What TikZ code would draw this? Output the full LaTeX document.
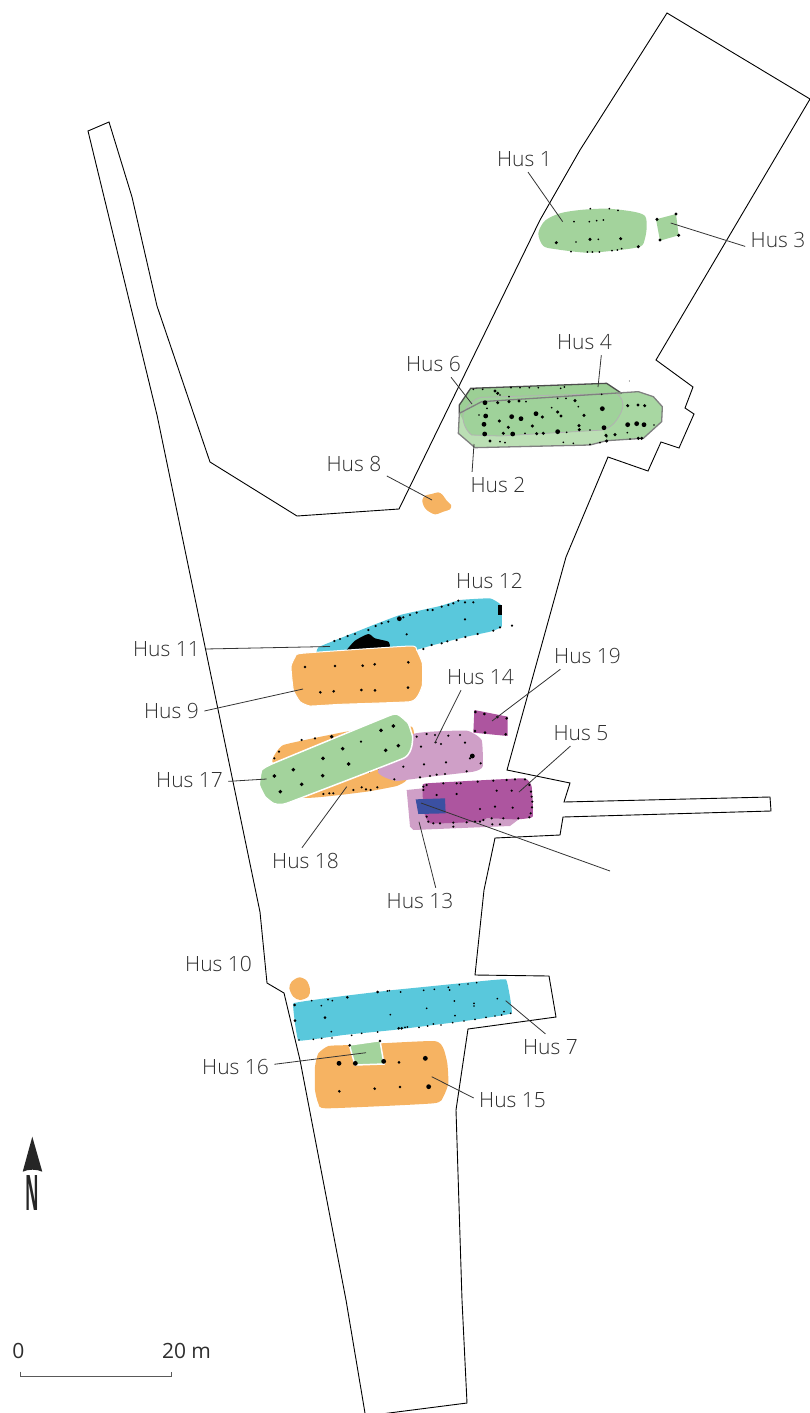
\documentclass[tikz,border=0pt]{standalone}
\usepackage{fontspec}
\usetikzlibrary{calc}
\setmainfont{Open Sans}
\newfontfamily\lightfont{Open Sans Light}
\definecolor{husgreen}{HTML}{A3D39C}
\definecolor{husband}{HTML}{9CCF95}
\definecolor{husmain}{HTML}{9FD29A}
\definecolor{huspale}{HTML}{BBDFB4}
\definecolor{husend}{HTML}{A8D7A2}
\definecolor{husorange}{HTML}{F6B362}
\definecolor{huscyan}{HTML}{59C8DC}
\definecolor{huspink}{HTML}{CF9FC7}
\definecolor{huspurple}{HTML}{AD559F}
\definecolor{husblue}{HTML}{3B50A2}
\definecolor{labelgray}{HTML}{2E2E2E}
\newcommand{\postholes}[2]{\foreach \px/\py in {#2} {\fill (\px,\py) circle ({1.45*#1});}}
\begin{document}
\begin{tikzpicture}[x=1pt, y=-1pt]
	\tikzstyle{huslabel}=[
	font=\lightfont\fontsize{21}{21}\selectfont,
	text=labelgray,
	inner sep=1.5pt,
	outer sep=4pt
	]
	\tikzstyle{leader}=[
	draw=black!80,
	line width=0.8pt
	]
	\tikzstyle{boundary}=[
	draw=black,
	line width=0.9pt,
	line join=miter
	]
	\tikzstyle{zoomA}=[shift={(400,130)}, scale=0.33333]
	\tikzstyle{zoomB}=[shift={(240,570)}, scale=0.33333]
	\tikzstyle{zoomC}=[shift={(260,950)}, scale=0.33333]
	\useasboundingbox (0,0) rectangle (810,1413);
	%
	\draw[boundary] (667,13) -- (810,99) -- (656,360) -- (693,387) -- (685,408) -- (694,414)
	-- (679,448) -- (661,442) -- (648,471) -- (608,457) -- (566,557) -- (507,770) -- (570,783)
	-- (564,802) -- (770,797) -- (771,811) -- (563,817) -- (560,835) -- (495,838) -- (484,890)
	-- (475,975) -- (549,976) -- (556,1017) -- (468,1029) -- (456,1110) -- (462,1300)
	-- (467,1403) -- (365.5,1416) -- (346,1300) -- (300,1060) -- (284,993) -- (267,983)
	-- (260,912) -- (157,415) -- (88,131) -- (109,122) -- (132,197) -- (157,306) -- (210,462)
	-- (297,516) -- (399,509) -- (540,220) -- (580,150) -- cycle;
	%
	\begin{scope}[zoomA]
		% north houses
		\fill[husgreen] plot[smooth cycle] coordinates {(415,310) (430,348) (470,358) (560,368) (640,362) (720,350) (735,325) (740,290) (735,258) (700,245) (620,236) (540,240) (480,250) (435,272)};
		\fill[husgreen] (768,268) -- (828,252) -- (836,316) -- (780,332) -- cycle;
		\postholes{2pt}{571/236,628/236,654/241,522/275,568/275,590/272,610/270,528/336,595/328,665/356,652/360,636/362,598/366,577/366,562/366,513/365}
		\postholes{3.5pt}{469/338,570/328,662/326,715/350,771/268,828/252,836/316,780/330}
		% double house
		\fill[huspale] (178,850) -- (175,910) -- (225,953) -- (570,945) -- (620,932) -- (730,925) -- (785,875) -- (787,830) -- (760,800) -- (715,785) -- (245,815) -- cycle;
		\fill[husend] (610,900) -- (650,790) -- (715,785) -- (760,800) -- (787,830) -- (785,875) -- (730,925) -- (620,932) -- cycle;
		\fill[husband] (178,850) -- (178,825) -- (212,775) -- (620,760) -- (665,790) -- (600,900) -- (215,915) -- cycle;
		\filldraw[draw=black!30, fill=husmain, line width=0.8pt] (190,850) .. controls (200,825) and (225,805) .. (245,802) -- (650,790) .. controls (675,810) and (675,835) .. (650,870) .. controls (640,885) and (625,895) .. (610,900) -- (300,918) -- (215,915) .. controls (195,900) and (185,870) .. (190,850) -- cycle;
		\draw[draw=black!70, line width=1.3pt] (178,850) -- (178,825) -- (212,775) -- (620,760) -- (665,790);
		\draw[draw=black!50, line width=1.3pt] (178,850) -- (175,910) -- (225,953) -- (570,945) -- (620,932) -- (730,925) -- (785,875) -- (787,830) -- (760,800) -- (715,785) -- (245,815) -- cycle;
		\postholes{5pt}{607/836,257/858,612/893,338/912,710/881,252/883,335/860,363/866,408/851,683/884,732/884,473/905,254/912,255/818}
		\postholes{3.5pt}{285/783,293/790,327/815,357/813,293/818,298/873,427/861,473/846,483/858,552/856,397/888,537/887,538/899,410/911,430/910,310/910,270/933,645/914,618/916,683/827,714/825,734/827,620/933,715/925,725/925,325/892,525/812}
		\postholes{2pt}{220/778,248/778,333/773,360/773,388/773,415/773,482/775,493/771,327/800,300/795,473/805,498/805,378/815,455/833,535/830,237/855,261/835,375/910,500/907,570/900,682/908,620/920,520/940,490/937,570/943,600/938,315/938,300/935,690/927,762/885,605/793}
		\postholes{1pt}{688/753}
		% small orange house
		\fill[husorange] plot[smooth cycle] coordinates {(67,1110) (75,1097) (95,1092) (115,1087) (128,1095) (140,1112) (153,1125) (150,1138) (130,1145) (105,1153) (80,1140) (70,1125)};
	\end{scope}
	%
	\begin{scope}[zoomB]
		% middle group
		\fill[huscyan] plot[smooth cycle, tension=0.2] coordinates {(235,232) (300,205) (400,165) (480,135) (600,108) (660,90) (750,85) (783,105) (785,170) (750,185) (680,200) (580,225) (450,260) (235,260)};
		\fill[black] plot[smooth, tension=0.4] coordinates {(320,240) (345,212) (385,192) (405,205) (445,215) (450,232)} -- cycle;
		\fill[black] (775,105) rectangle (785,135);
		\postholes{5pt}{478/146}
		\postholes{2.5pt}{283/213,300/207,323/198,345/192,385/180,407/168,425/160,445/155,490/142,510/135,530/128,563/120,578/120,605/110,625/105,640/100,655/92,675/97,700/97,675/148,500/193,550/237,575/225,605/220,622/214,650/210,676/201,713/192,760/182,780/172,816/167}
		\filldraw[draw=white, fill=husorange, line width=1pt] plot[smooth cycle, tension=0.25] coordinates {(153,290) (165,262) (185,250) (510,228) (530,240) (547,280) (547,345) (535,375) (510,395) (300,403) (210,408) (180,395) (160,360)};
		\postholes{3pt}{195/291,285/288,368/287,404/283,505/277,241/367,281/364,364/360,405/361,504/353}
		\fill[husorange] plot[smooth cycle, tension=0.2] coordinates {(97,575) (130,525) (330,483) (515,470) (522,540) (500,630) (470,648) (380,665) (190,683)};
		\postholes{2.5pt}{103/565,117/545,185/510,225/505,340/660,190/680,250/672,268/670,280/670,365/652,378/658,392/660,412/652,388/605,415/595}
		\fill[huspink] plot[smooth cycle, tension=0.25] coordinates {(415,600) (520,492) (680,482) (725,510) (728,590) (700,605) (570,620) (470,633) (430,620)};
		\postholes{2.5pt}{543/530,560/492,585/495,625/497,660/495,603/522,587/517,675/518,690/565,722/580,618/577,552/583,490/590,463/628,540/622,570/618,590/614,615/612,680/604,530/500}
		\postholes{5pt}{697/558}
		\filldraw[draw=white, fill=husgreen, line width=1.5pt] plot[smooth cycle, tension=0.2] coordinates {(58,645) (65,600) (100,580) (450,436) (478,436) (505,460) (518,500) (515,530) (490,565) (140,700) (100,700) (75,680)};
		\postholes{4pt}{249/565,103/618,423/481,326/582,248/617,185/643,475/527,460/468,437/541,160/599,308/536,121/665,275/500}
		\postholes{2.5pt}{363/515}
		\fill[huspurple] (703,420) -- (803,440) -- (803,498) -- (700,488) -- cycle;
		\postholes{3pt}{706/426,733/432,772/441,800/445,705/483,735/488,797/493}
		\fill[huspink] (500,660) -- (600,650) -- (600,745) -- (840,745) -- (810,768) -- (520,780) -- (510,770) -- cycle;
		\fill[huspurple] plot[smooth cycle, tension=0.2] coordinates {(548,650) (560,640) (850,625) (875,650) (878,740) (830,748) (740,745) (720,755) (570,760) (550,720)};
		\postholes{2.5pt}{550/650,560/645,610/640,650/640,662/640,713/635,760/632,800/630,825/628,855/628,868/645,873/665,875/680,877/695,876/712,872/730,868/742,590/675,650/672,770/662,815/662,720/717,765/710,818/713,835/745,790/745,755/745,730/750,720/755,705/755,680/757,640/758,600/760,580/760,565/755,560/740,560/725,780/763,757/763,640/770,550/660}
		\fill[husblue] (527,688) -- (615,685) -- (617,730) -- (535,732) -- cycle;
	\end{scope}
	%
	\begin{scope}[zoomC]
		% south group
		\fill[husorange] plot[smooth cycle] coordinates {(88,115) (95,95) (118,82) (140,92) (150,118) (145,140) (120,150) (100,140)};
		\fill[huscyan] plot[smooth cycle, tension=0.1] coordinates {(100,160) (250,138) (400,120) (600,100) (738,88) (755,190) (600,215) (400,240) (250,255) (115,272)};
		\postholes{3pt}{104/165,105/212,262/142,353/126,195/203,416/235,425/235}
		\postholes{2pt}{117/270,155/152,184/167,204/149,217/152,382/123,388/122,422/126,491/121,523/118,565/112,569/120,598/104,624/102,650/98,712/146,391/194,500/175,583/153,642/160,642/168,732/185,752/190,214/245,216/264,160/268,185/265,275/256,305/250,353/246,435/232,442/231,477/232,503/228,543/225,578/218,612/213,645/208,678/202,705/198,725/195,585/197,520/222}
		\fill[husorange] plot[smooth cycle, tension=0.3] coordinates {(165,350) (175,310) (205,288) (270,285) (520,273) (550,295) (562,340) (565,400) (550,440) (520,460) (200,475) (175,460) (165,420)};
		\filldraw[draw=white, fill=husgreen, line width=1.5pt] (268,285) -- (360,272) -- (372,342) -- (285,345) -- cycle;
		\postholes{5pt}{237/340,286/340,371/334,496/325,506/410}
		\postholes{3pt}{417/337,238/424,344/416,420/411,269/286,360/273}
	\end{scope}
	%
	\coordinate (E1) at (562.7,221.7);
	\coordinate (E2) at (474,444);
	\coordinate (E3) at (670.7,223);
	\coordinate (E4) at (598,387);
	\coordinate (E5) at (519,792);
	\coordinate (E6) at (472,404);
	\coordinate (E7) at (505.7,1000.7);
	\coordinate (E8) at (432,500);
	\coordinate (E9) at (303,689);
	\coordinate (E11) at (330,646.5);
	\coordinate (E13) at (419,821.7);
	\coordinate (F13) at (421,803);
	\coordinate (G13) at (610,871);
	\coordinate (E14) at (434.7,743);
	\coordinate (E15) at (431.7,1076.7);
	\coordinate (E16) at (366,1052.7);
	\coordinate (E17) at (266.7,779);
	\coordinate (E18) at (346.7,786.7);
	\coordinate (E19) at (492,721);
	%
	\node[huslabel] (H1) at (524.5,159) {Hus 1};
	\node[huslabel] (H2) at (498,485) {Hus 2};
	\node[huslabel] (H3) at (778,240) {Hus 3};
	\node[huslabel] (H4) at (584.5,342) {Hus 4};
	\node[huslabel] (H5) at (581,733) {Hus 5};
	\node[huslabel] (H6) at (433.5,364) {Hus 6};
	\node[huslabel] (H7) at (550.5,1047) {Hus 7};
	\node[huslabel] (H8) at (354,464) {Hus 8};
	\node[huslabel] (H9) at (171.5,711) {Hus 9};
	\node[huslabel] (H10) at (218.5,964) {Hus 10};
	\node[huslabel] (H11) at (166.5,649) {Hus 11};
	\node[huslabel] (H12) at (489.5,581) {Hus 12};
	\node[huslabel] (H13) at (420,901) {Hus 13};
	\node[huslabel] (H14) at (480.5,677) {Hus 14};
	\node[huslabel] (H15) at (512.5,1100) {Hus 15};
	\node[huslabel] (H16) at (235.5,1067) {Hus 16};
	\node[huslabel] (H17) at (189.5,780) {Hus 17};
	\node[huslabel] (H18) at (305.5,861) {Hus 18};
	\node[huslabel] (H19) at (587.5,656) {Hus 19};
	%
	\foreach \n/\a in {1/-75,2/153,3/191,4/-38,5/-129,6/-37,7/111,8/-20,9/0,11/0,13/40,14/-146,15/177,16/4,17/-2,18/105,19/-154} {
		\draw[leader] (H\n.\a) -- (E\n);
	}
	\draw[leader] (G13) -- (F13);
	%
	\fill[black!85] (32.3,1136.7) -- (42.3,1171.7) .. controls (37,1169) and (28,1169) .. (22.7,1171.7) -- cycle;
	\node[inner sep=0pt, font=\bfseries\fontsize{49}{49}\selectfont, text=black!85] (NORTH) at (32.7,1193) {\scalebox{0.34}[1]{N}};
	%
	\node[inner sep=0pt, font=\fontsize{21}{21}\selectfont, text=labelgray] (ZERO) at (18.5,1351) {0};
	\node[inner sep=0pt, font=\fontsize{21}{21}\selectfont, text=labelgray] (TWENTY) at (186.5,1351) {20 m};
	\coordinate (SA) at (20,1371.7);
	\coordinate (SB) at (171,1371.7);
	\draw[draw=black!65, line width=0.8pt] (SA) -- ++(0,4.3) -- ($(SB)+(0,4.3)$) -- (SB);
\end{tikzpicture}
\end{document}
